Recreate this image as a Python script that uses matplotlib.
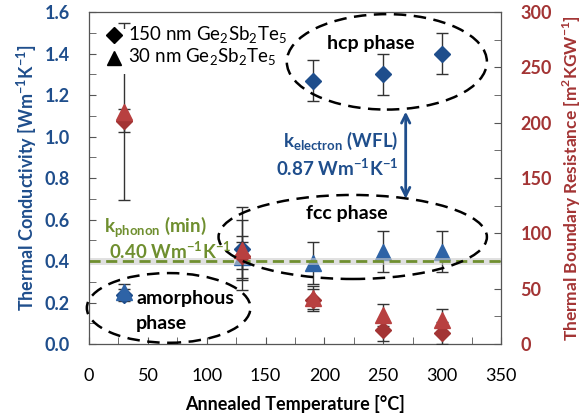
import matplotlib.pyplot as plt
from matplotlib.patches import Ellipse, Rectangle
from matplotlib.ticker import MultipleLocator

plt.rcParams['font.family'] = ['Lato', 'DejaVu Sans']
plt.rcParams['mathtext.fontset'] = 'custom'
plt.rcParams['mathtext.rm'] = 'Lato'
plt.rcParams['mathtext.bf'] = 'Lato:bold'

BLUE = '#1f4e8c'
BLUE_T = '#2e63a6'
RED = '#a33434'
RED_T = '#b84040'
GREEN = '#6f8f2f'

# annealed temperature [C]
temp = [30, 130, 190, 250, 300]

# thermal conductivity [W/mK]
k_150 = [0.235, 0.46, 1.27, 1.30, 1.40]
k_150_err = [0.03, 0.20, 0.10, 0.10, 0.10]
k_30 = [0.25, 0.42, 0.39, 0.445, 0.445]
k_30_err = [0.04, 0.10, 0.10, 0.10, 0.10]

# thermal boundary resistance [m2K/GW]
r_150 = [202, 80, 40, 13, 10]
r_150_err = [10, 12, 10, 10, 10]
r_30 = [210, 85, 42, 26, 22]
r_30_err = [80, 27, 10, 10, 10]

k_min = 0.40

fig = plt.figure(figsize=(5.86, 4.16), dpi=100)
ax = fig.add_axes([0.152, 0.173, 0.703, 0.798])
ax2 = ax.twinx()

ebkw = dict(ecolor='#333333', elinewidth=1, capsize=4, capthick=1, linestyle='none', zorder=3)
ax.errorbar(temp, k_150, yerr=k_150_err, marker='D', ms=8, color=BLUE, mec=BLUE, **ebkw)
ax.errorbar(temp, k_30, yerr=k_30_err, marker='^', ms=11, color=BLUE_T, mec=BLUE_T, **ebkw)
ax2.errorbar(temp, r_150, yerr=r_150_err, marker='D', ms=8, color=RED, mec=RED, **ebkw)
ax2.errorbar(temp, r_30, yerr=r_30_err, marker='^', ms=11, color=RED_T, mec=RED_T, **ebkw)

# k_phonon minimum line
ax2.plot([0, 350], [k_min, k_min], color='#cccccc', lw=5, alpha=0.6, transform=ax.transData, zorder=1)
ax2.plot([0, 350], [k_min, k_min], color=GREEN, lw=2, ls=(0, (4, 2)), transform=ax.transData, zorder=2)

# phase ellipses
for cx, cy, w, h in [(253, 1.36, 170, 0.46), (224, 0.516, 228, 0.405), (67.6, 0.174, 139, 0.336)]:
    ax2.add_patch(Ellipse((cx, cy), w, h, transform=ax.transData, fill=False,
                          ec='black', lw=1.8, ls=(0, (5, 3)), clip_on=False, zorder=4))

# k_electron arrow
ax2.annotate('', xy=(269, 1.12), xytext=(269, 0.70), xycoords=ax.transData, textcoords=ax.transData,
             arrowprops=dict(arrowstyle='<->', color=BLUE, lw=2, mutation_scale=15, shrinkA=0, shrinkB=0))

tk = dict(transform=ax.transData, fontweight='bold', fontsize=13.5, zorder=5)
ax2.text(263, 0.98, r'k$_{\mathbf{electron}}$ (WFL)', color=BLUE, ha='right', va='center', **tk)
ax2.text(263, 0.85, r'0.87 Wm$^{\mathbf{-1}}$K$^{\mathbf{-1}}$', color=BLUE, ha='right', va='center', **tk)
ax2.text(13, 0.56, r'k$_{\mathbf{phonon}}$ (min)', color=GREEN, ha='left', va='center', **tk)
ax2.text(17, 0.45, r'0.40 Wm$^{\mathbf{-1}}$K$^{\mathbf{-1}}$', color=GREEN, ha='left', va='center', **tk)
tk['fontsize'] = 14
ax2.text(239, 1.45, 'hcp phase', color='black', ha='center', va='center', **tk)
ax2.text(219, 0.63, 'fcc phase', color='black', ha='center', va='center', **tk)
ax2.text(40, 0.22, 'amorphous', color='black', ha='left', va='center', **tk)
ax2.text(40, 0.10, 'phase', color='black', ha='left', va='center', **tk)

# legend
ax2.add_patch(Rectangle((14, 1.30), 150, 0.22, transform=ax.transData, fc='white', ec='none', zorder=4))
ax2.plot([21], [1.49], marker='D', ms=8, color='black', transform=ax.transData, clip_on=False, zorder=5)
ax2.plot([21], [1.38], marker='^', ms=10, color='black', transform=ax.transData, clip_on=False, zorder=5)
ax2.text(33, 1.49, r'150 nm Ge$_2$Sb$_2$Te$_5$', fontsize=13.5, va='center', transform=ax.transData, zorder=5)
ax2.text(33, 1.38, r'30 nm Ge$_2$Sb$_2$Te$_5$', fontsize=13.5, va='center', transform=ax.transData, zorder=5)

ax.set_xlim(0, 350)
ax.set_ylim(0, 1.6)
ax2.set_ylim(0, 300)
ax.xaxis.set_major_locator(MultipleLocator(50))
ax.xaxis.set_minor_locator(MultipleLocator(25))
ax.yaxis.set_major_locator(MultipleLocator(0.2))
ax.yaxis.set_minor_locator(MultipleLocator(0.1))
ax2.yaxis.set_major_locator(MultipleLocator(50))
ax2.yaxis.set_minor_locator(MultipleLocator(25))
ax.yaxis.set_major_formatter(lambda v, p: f'{v:.1f}')

ax.tick_params(axis='x', which='both', direction='in', length=5, labelsize=13, pad=17, color='#555555')
ax.tick_params(axis='y', which='both', direction='in', length=5, labelsize=13, pad=14, color='#555555', labelcolor=BLUE)
ax2.tick_params(axis='y', which='both', direction='in', length=5, labelsize=13, pad=14, color='#555555', labelcolor=RED)
for lab in ax.get_yticklabels():
    lab.set_fontweight('bold')
for lab in ax2.get_yticklabels():
    lab.set_fontweight('bold')
for sp in ax2.spines.values():
    sp.set_color('#555555')

ax.set_xlabel('Annealed Temperature [°C]', fontsize=13, fontweight='bold', labelpad=8)
ax.set_ylabel(r'Thermal Conductivity [Wm$^{\mathbf{-1}}$K$^{\mathbf{-1}}$]', fontsize=13, fontweight='bold', color=BLUE, labelpad=4)
ax2.set_ylabel(r'Thermal Boundary Resistance [m$^{\mathbf{2}}$KGW$^{\mathbf{-1}}$]', fontsize=12.5, fontweight='bold', color=RED, labelpad=6)

fig.savefig('out.png', dpi=100)
